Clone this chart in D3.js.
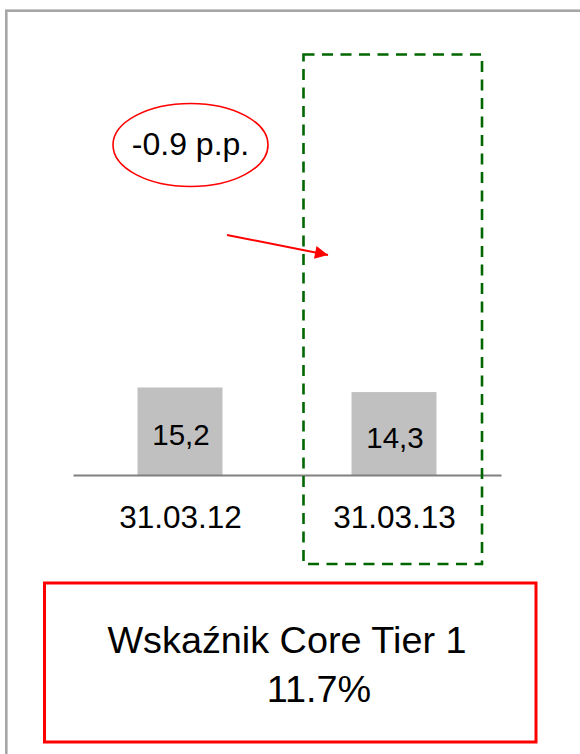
<!DOCTYPE html>
<html><head><meta charset="utf-8">
<script src="https://cdn.jsdelivr.net/npm/d3@7"></script>
<style>
html,body{margin:0;padding:0;background:#fff;}
svg{display:block;font-family:"Liberation Sans",Arial,sans-serif;}
</style></head>
<body>
<script>
const categories = ["31.03.12", "31.03.13"];
const values = [15.2, 14.3];
const valueLabels = ["15,2", "14,3"];
const changeLabel = "-0.9 p.p.";
const boxLines = ["Wskaźnik Core Tier 1", "11.7%"];

const W = 580, H = 754;
const svg = d3.select("body").append("svg").attr("width", W).attr("height", H);

// outer grey frame (extends past right/bottom)
svg.append("rect").attr("x", 6.3).attr("y", 10.7).attr("width", 600).attr("height", 800)
  .attr("fill", "none").attr("stroke", "#a6a6a6").attr("stroke-width", 2.6);

const baseY = 475;
const x = d3.scalePoint().domain(categories).range([73, 501]).padding(0.5);
const y = d3.scaleLinear().domain([-2, 15.2]).range([baseY + 0, 387.5]);
const barW = 85;

// bars
svg.selectAll("rect.bar").data(values).join("rect").attr("class", "bar")
  .attr("x", (d, i) => x(categories[i]) - barW / 2)
  .attr("y", d => y(d))
  .attr("width", barW)
  .attr("height", d => baseY - y(d))
  .attr("fill", "#c0c0c0");

// value labels
svg.selectAll("text.val").data(values).join("text").attr("class", "val")
  .attr("x", (d, i) => x(categories[i]) + 1)
  .attr("y", d => (y(d) + baseY) / 2 + 14)
  .attr("text-anchor", "middle").attr("font-size", 29.5).attr("fill", "#000")
  .text((d, i) => valueLabels[i]);

// axis
const axis = svg.append("g").attr("transform", `translate(0,${baseY})`)
  .call(d3.axisBottom(x).tickSize(0).tickPadding(31));
axis.select(".domain").attr("stroke", "#808080").attr("stroke-width", 2);
axis.selectAll("text").attr("font-size", 31.5).attr("fill", "#000")
  .attr("font-family", "'Liberation Sans',Arial,sans-serif");

// green dashed highlight box
svg.append("rect").attr("x", 303.5).attr("y", 54.5).attr("width", 178.5).attr("height", 509.5)
  .attr("fill", "none").attr("stroke", "#006600").attr("stroke-width", 2.6)
  .attr("stroke-dasharray", "11,7.5");

// ellipse annotation
svg.append("ellipse").attr("cx", 190.5).attr("cy", 145).attr("rx", 77.5).attr("ry", 41.5)
  .attr("fill", "none").attr("stroke", "#ff0000").attr("stroke-width", 1.6);
svg.append("text").attr("x", 190.5).attr("y", 155).attr("text-anchor", "middle")
  .attr("font-size", 32).attr("fill", "#000").text(changeLabel);

// arrow
svg.append("defs").append("marker").attr("id", "ah").attr("viewBox", "0 0 10 10")
  .attr("refX", 10).attr("refY", 5).attr("markerWidth", 16).attr("markerHeight", 13)
  .attr("markerUnits", "userSpaceOnUse").attr("orient", "auto")
  .append("path").attr("d", "M0,0L10,5L0,10Z").attr("fill", "#ff0000");
svg.append("line").attr("x1", 227).attr("y1", 235).attr("x2", 328).attr("y2", 255)
  .attr("stroke", "#ff0000").attr("stroke-width", 2).attr("marker-end", "url(#ah)");

// red info box
svg.append("rect").attr("x", 44.5).attr("y", 583).attr("width", 491.5).attr("height", 159)
  .attr("fill", "none").attr("stroke", "#ff0000").attr("stroke-width", 3);
svg.append("text").attr("x", 287).attr("y", 653).attr("text-anchor", "middle")
  .attr("font-size", 37.8).attr("fill", "#000").text(boxLines[0]);
svg.append("text").attr("x", 319).attr("y", 702).attr("text-anchor", "middle")
  .attr("font-size", 37.8).attr("fill", "#000").text(boxLines[1]);
</script>
</body></html>
